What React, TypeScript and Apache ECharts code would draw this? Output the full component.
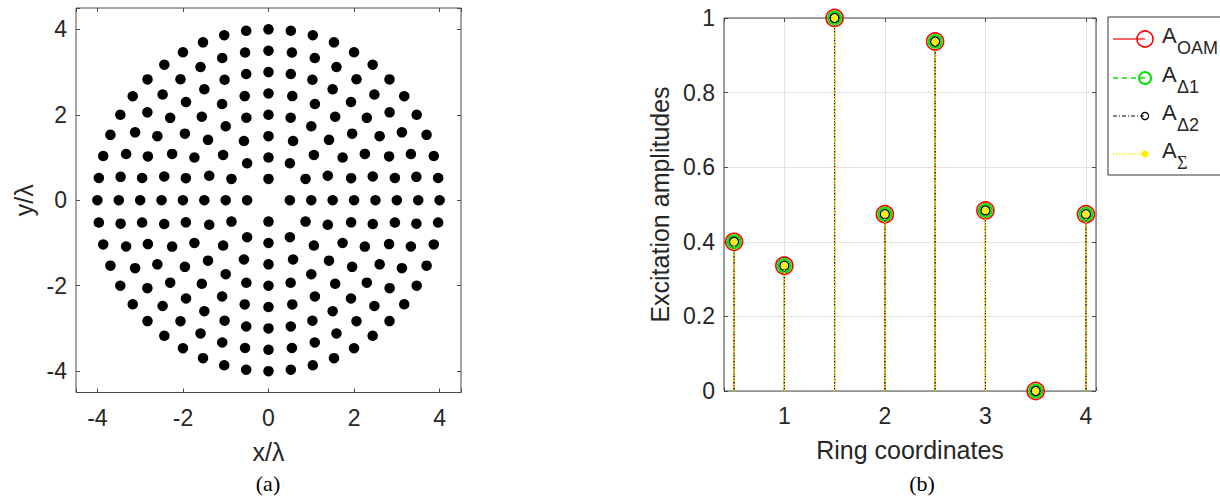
import React, { useEffect, useRef } from "react";
import * as echarts from "echarts";

// (a) concentric ring array: ring radii (in wavelengths) and element count per ring
const ringRadii = [0.5, 1, 1.5, 2, 2.5, 3, 3.5, 4];
const ringElementCounts = [4, 12, 16, 24, 28, 36, 40, 48];
const positionTicks = [-4, -2, 0, 2, 4];

// (b) excitation amplitude per ring
const ringCoordinates = [0.5, 1, 1.5, 2, 2.5, 3, 3.5, 4];
const ampOAM = [0.4, 0.336, 1.0, 0.474, 0.937, 0.484, 0.0, 0.474];
const ampDelta1 = [0.4, 0.336, 1.0, 0.474, 0.937, 0.484, 0.0, 0.474];
const ampDelta2 = [0.4, 0.336, 1.0, 0.474, 0.937, 0.484, 0.0, 0.474];
const ampSigma = [0.4, 0.336, 1.0, 0.474, 0.937, 0.484, 0.0, 0.474];
const ringTicks = [1, 2, 3, 4];

const SANS = "'Liberation Sans', Arial, Helvetica, sans-serif";
const SERIF = "'Liberation Serif', 'Times New Roman', serif";
const TEXT = "#262626";
const FRAME = "#4a4a4a";

// element positions on each ring, equally spaced starting on the +x axis
const elements: number[][] = [];
ringRadii.forEach((r, i) => {
  const n = ringElementCounts[i];
  for (let k = 0; k < n; k++) {
    const a = (2 * Math.PI * k) / n;
    elements.push([r * Math.cos(a), r * Math.sin(a)]);
  }
});

const isTick = (list: number[], v: number) =>
  list.some((t) => Math.abs(t - v) < 1e-9);

type StemStyle = {
  stroke: string;
  lineWidth: number;
  lineDash?: number[];
  r: number;
  markerStroke?: string;
  markerFill?: string;
  markerWidth: number;
};

function stemSeries(name: string, values: number[], st: StemStyle) {
  return {
    type: "custom",
    name,
    xAxisIndex: 2,
    yAxisIndex: 2,
    data: ringCoordinates.map((x, i) => [x, values[i]]),
    renderItem: (_params: any, api: any) => {
      const x = api.value(0);
      const y = api.value(1);
      const top = api.coord([x, y]);
      const base = api.coord([x, 0]);
      return {
        type: "group",
        children: [
          {
            type: "line",
            shape: { x1: base[0], y1: base[1], x2: top[0], y2: top[1] },
            style: {
              stroke: st.stroke,
              lineWidth: st.lineWidth,
              lineDash: st.lineDash,
            },
          },
          {
            type: "circle",
            shape: { cx: top[0], cy: top[1], r: st.r },
            style: {
              fill: st.markerFill || "none",
              stroke: st.markerStroke || "none",
              lineWidth: st.markerWidth,
            },
          },
        ],
      };
    },
  };
}

const stemStyles: Record<string, StemStyle> = {
  oam: { stroke: "#ff0000", lineWidth: 1, r: 8.5, markerStroke: "#ff0000", markerWidth: 1.6 },
  d1: { stroke: "#00ee00", lineWidth: 0.8, lineDash: [4, 4], r: 6.4, markerStroke: "#00e600", markerWidth: 2.2 },
  d2: { stroke: "#000000", lineWidth: 1.1, lineDash: [3, 1.5, 1, 1.5], r: 4.5, markerStroke: "#000000", markerWidth: 1.3 },
  sg: { stroke: "#ffee00", lineWidth: 1.5, lineDash: [1.5, 1.5], r: 3.4, markerFill: "#ffee00", markerWidth: 0 },
};

const tickStyle = { inside: true, length: 4, lineStyle: { color: FRAME, width: 1 } };
const hiddenLine = { show: false, onZero: false };
const labelStyle = { color: TEXT, fontSize: 23, fontFamily: SANS };
const nameStyle = { color: TEXT, fontSize: 25, fontFamily: SANS };

function legendEntry(
  y: number,
  line: any,
  marker: any,
  sub: string,
  subFont: string
) {
  return [
    {
      type: "line",
      shape: { x1: 1113, y1: y, x2: 1145, y2: y },
      style: line,
    },
    { type: "circle", shape: { cx: 1145, cy: y, r: marker.r }, style: marker.style },
    {
      type: "text",
      x: 1162,
      y: y - 4,
      style: {
        text: "A",
        font: `22px ${SANS}`,
        fill: TEXT,
        textAlign: "left",
        textVerticalAlign: "middle",
      },
    },
    {
      type: "text",
      x: 1177,
      y: y + 9,
      style: {
        text: sub,
        font: `18px ${subFont}`,
        fill: TEXT,
        textAlign: "left",
        textVerticalAlign: "middle",
      },
    },
  ];
}

export default function App() {
  const ref = useRef<HTMLDivElement>(null);

  useEffect(() => {
    if (!ref.current) return;
    const chart = echarts.init(ref.current, null, { renderer: "svg" });

    const option: any = {
      animation: false,
      backgroundColor: "#ffffff",
      grid: [
        {
          left: 76,
          top: 8,
          width: 385,
          height: 384.5,
          show: true,
          borderColor: FRAME,
          borderWidth: 1,
          backgroundColor: "transparent",
          z: 1,
        },
        {
          left: 724,
          top: 18,
          width: 372,
          height: 373,
          show: true,
          borderColor: FRAME,
          borderWidth: 1,
          backgroundColor: "transparent",
          z: 1,
        },
      ],
      xAxis: [
        {
          type: "value",
          gridIndex: 0,
          position: "bottom",
          min: -4.5,
          max: 4.5,
          minInterval: 2,
          maxInterval: 2,
          axisLine: hiddenLine,
          axisTick: tickStyle,
          splitLine: { show: false },
          axisLabel: {
            ...labelStyle,
            margin: 14,
            formatter: (v: number) => (isTick(positionTicks, v) ? String(v) : ""),
          },
          name: "x/λ",
          nameLocation: "middle",
          nameGap: 47,
          nameTextStyle: nameStyle,
        },
        {
          type: "value",
          gridIndex: 0,
          position: "top",
          min: -4.5,
          max: 4.5,
          minInterval: 2,
          maxInterval: 2,
          axisLine: hiddenLine,
          axisTick: tickStyle,
          axisLabel: { show: false },
          splitLine: { show: false },
        },
        {
          type: "value",
          gridIndex: 1,
          position: "bottom",
          min: 0.4,
          max: 4.1,
          minInterval: 1,
          maxInterval: 1,
          axisLine: hiddenLine,
          axisTick: tickStyle,
          splitLine: { show: true, lineStyle: { color: "#e2e2e2", width: 1 } },
          axisLabel: {
            ...labelStyle,
            margin: 13,
            formatter: (v: number) => (isTick(ringTicks, v) ? String(Math.round(v)) : ""),
          },
          name: "Ring coordinates",
          nameLocation: "middle",
          nameGap: 46,
          nameTextStyle: nameStyle,
        },
        {
          type: "value",
          gridIndex: 1,
          position: "top",
          min: 0.4,
          max: 4.1,
          minInterval: 1,
          maxInterval: 1,
          axisLine: hiddenLine,
          axisTick: tickStyle,
          axisLabel: { show: false },
          splitLine: { show: false },
        },
      ],
      yAxis: [
        {
          type: "value",
          gridIndex: 0,
          position: "left",
          min: -4.5,
          max: 4.5,
          minInterval: 2,
          maxInterval: 2,
          axisLine: hiddenLine,
          axisTick: tickStyle,
          splitLine: { show: false },
          axisLabel: {
            ...labelStyle,
            margin: 9,
            formatter: (v: number) => (isTick(positionTicks, v) ? String(v) : ""),
          },
          name: "y/λ",
          nameLocation: "middle",
          nameRotate: 90,
          nameGap: 40,
          nameTextStyle: nameStyle,
        },
        {
          type: "value",
          gridIndex: 0,
          position: "right",
          min: -4.5,
          max: 4.5,
          minInterval: 2,
          maxInterval: 2,
          axisLine: hiddenLine,
          axisTick: tickStyle,
          axisLabel: { show: false },
          splitLine: { show: false },
        },
        {
          type: "value",
          gridIndex: 1,
          position: "left",
          min: 0,
          max: 1,
          interval: 0.2,
          axisLine: hiddenLine,
          axisTick: tickStyle,
          splitLine: { show: true, lineStyle: { color: "#e2e2e2", width: 1 } },
          axisLabel: { ...labelStyle, margin: 9 },
          name: "Excitation amplitudes",
          nameLocation: "middle",
          nameRotate: 90,
          nameGap: 52,
          nameTextStyle: nameStyle,
        },
        {
          type: "value",
          gridIndex: 1,
          position: "right",
          min: 0,
          max: 1,
          interval: 0.2,
          axisLine: hiddenLine,
          axisTick: tickStyle,
          axisLabel: { show: false },
          splitLine: { show: false },
        },
      ],
      series: [
        {
          type: "scatter",
          name: "elements",
          xAxisIndex: 0,
          yAxisIndex: 0,
          symbol: "circle",
          symbolSize: 10.5,
          itemStyle: { color: "#000000", opacity: 1 },
          data: elements,
        },
        stemSeries("A_OAM", ampOAM, stemStyles.oam),
        stemSeries("A_Δ1", ampDelta1, stemStyles.d1),
        stemSeries("A_Δ2", ampDelta2, stemStyles.d2),
        stemSeries("A_Σ", ampSigma, stemStyles.sg),
      ],
      graphic: [
        {
          type: "text",
          x: 268,
          y: 483,
          style: {
            text: "(a)",
            font: `22px ${SERIF}`,
            fill: "#000",
            textAlign: "center",
            textVerticalAlign: "middle",
          },
        },
        {
          type: "text",
          x: 922,
          y: 483,
          style: {
            text: "(b)",
            font: `22px ${SERIF}`,
            fill: "#000",
            textAlign: "center",
            textVerticalAlign: "middle",
          },
        },
        {
          type: "group",
          children: [
            {
              type: "rect",
              shape: { x: 1108, y: 17, width: 140, height: 158 },
              style: { fill: "#ffffff", stroke: "#333333", lineWidth: 1 },
            },
            ...legendEntry(
              39,
              { stroke: "#ff0000", lineWidth: 1.2 },
              { r: 8, style: { fill: "none", stroke: "#ff0000", lineWidth: 1.6 } },
              "OAM",
              SANS
            ),
            ...legendEntry(
              78,
              { stroke: "#00e600", lineWidth: 1.4, lineDash: [5, 4] },
              { r: 6, style: { fill: "none", stroke: "#00e600", lineWidth: 2 } },
              "Δ1",
              SANS
            ),
            ...legendEntry(
              116,
              { stroke: "#000000", lineWidth: 1, lineDash: [4, 2, 1, 2] },
              { r: 3.6, style: { fill: "none", stroke: "#000000", lineWidth: 1.2 } },
              "Δ2",
              SANS
            ),
            ...legendEntry(
              154,
              { stroke: "#ffee00", lineWidth: 1.5, lineDash: [1.5, 1.5] },
              { r: 3.5, style: { fill: "#ffee00", stroke: "none", lineWidth: 0 } },
              "Σ",
              SERIF
            ),
          ],
        },
      ],
    };

    chart.setOption(option);
    return () => chart.dispose();
  }, []);

  return (
    <div
      ref={ref}
      style={{
        position: "fixed",
        left: 0,
        top: 0,
        width: 1220,
        height: 498,
        background: "#ffffff",
      }}
    />
  );
}
